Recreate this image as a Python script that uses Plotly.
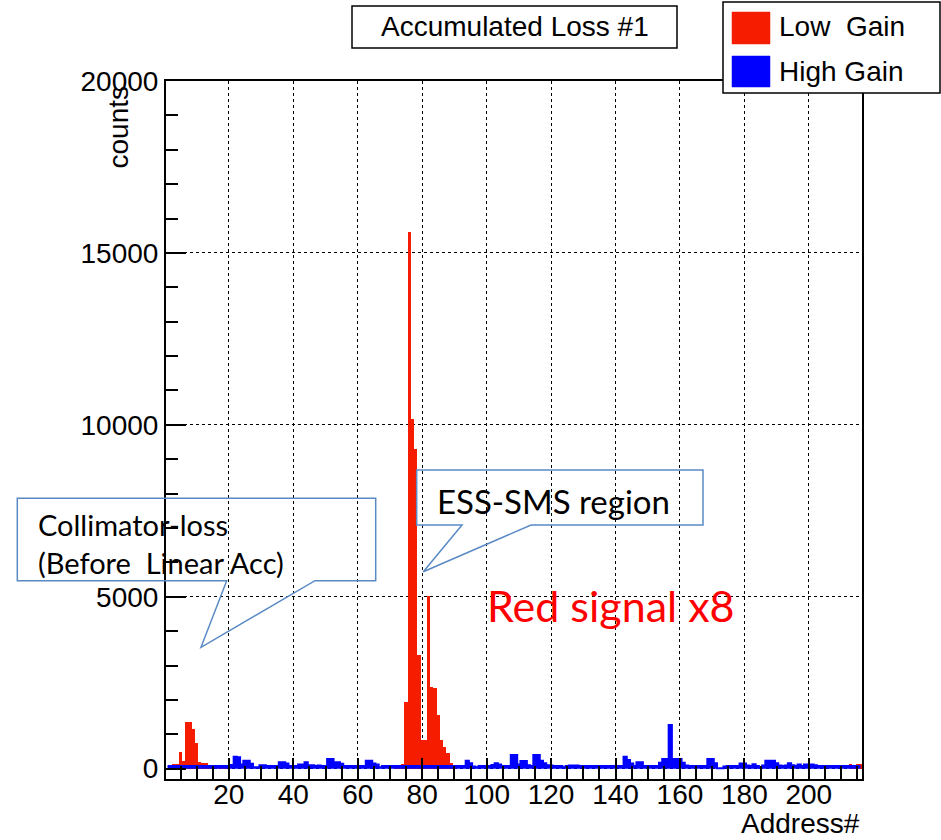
import plotly.graph_objects as go

# Channel addresses (one bin per address)
address = list(range(1, 217))

# Low-gain channel, scaled x8 (counts)
low_gain_x8 = [
    0, 0, 128, 128, 494, 224, 1366, 1366, 1145, 738, 203, 157, 157, 80, 80, 0, 120, 120, 120, 0,
    0, 0, 0, 0, 0, 0, 0, 0, 0, 0, 0, 0, 0, 0, 0, 0, 0, 0, 0, 0,
    0, 0, 0, 0, 0, 0, 0, 0, 0, 0, 0, 0, 0, 0, 0, 0, 0, 0, 0, 0,
    0, 0, 0, 0, 0, 0, 0, 0, 0, 0, 0, 40, 80, 150, 1950, 15600, 10170, 9290, 3300, 830,
    830, 5020, 2370, 2340, 1560, 830, 640, 456, 166, 60, 0, 0, 0, 0, 0, 0, 0, 0, 0, 0,
    0, 0, 0, 0, 0, 0, 0, 0, 0, 0, 0, 0, 0, 0, 0, 0, 0, 0, 0, 0,
    0, 0, 0, 0, 0, 0, 0, 0, 0, 0, 0, 0, 0, 0, 0, 0, 0, 0, 0, 0,
    0, 0, 0, 0, 0, 0, 0, 0, 0, 0, 0, 0, 0, 0, 0, 0, 0, 0, 0, 0,
    0, 0, 0, 0, 0, 0, 0, 0, 0, 0, 0, 0, 0, 0, 0, 0, 0, 0, 0, 0,
    0, 0, 0, 0, 0, 0, 0, 0, 0, 0, 0, 0, 0, 0, 0, 0, 0, 0, 0, 0,
    0, 0, 0, 0, 0, 0, 0, 0, 0, 0, 0, 0, 130, 60, 130, 130,
]

# High-gain channel (counts)
high_gain = [
    75, 75, 75, 75, 75, 75, 75, 75, 75, 75, 75, 75, 75, 75, 75, 75, 75, 75, 75, 75,
    110, 350, 330, 120, 233, 233, 140, 40, 40, 100, 100, 75, 75, 75, 75, 190, 190, 150, 75, 75,
    75, 120, 120, 190, 100, 100, 75, 90, 75, 75, 282, 282, 190, 190, 140, 80, 80, 75, 75, 75,
    75, 75, 233, 233, 150, 120, 40, 75, 75, 75, 75, 75, 75, 75, 75, 75, 75, 75, 75, 75,
    75, 75, 75, 75, 75, 75, 75, 75, 75, 75, 75, 75, 75, 233, 160, 60, 40, 75, 75, 75,
    75, 110, 157, 120, 75, 75, 75, 398, 398, 120, 224, 224, 100, 75, 398, 398, 233, 157, 100, 90,
    75, 75, 75, 40, 75, 90, 90, 90, 75, 75, 75, 75, 75, 75, 75, 75, 75, 75, 75, 75,
    75, 75, 350, 250, 150, 75, 190, 190, 75, 75, 75, 75, 75, 175, 282, 282, 1270, 282, 282, 282,
    175, 90, 75, 75, 75, 75, 75, 75, 282, 282, 157, 15, 15, 60, 75, 75, 75, 75, 150, 150,
    90, 75, 130, 75, 30, 90, 233, 233, 233, 160, 90, 75, 90, 160, 100, 75, 120, 75, 120, 120,
    120, 100, 75, 75, 75, 75, 75, 75, 75, 75, 75, 75, 75, 75, 75, 75,
]

RED = "#f51c00"
BLUE = "#0000ff"
CALLOUT = "#5a8ac6"
ROOT_FONT = "Liberation Sans, Arial, sans-serif"
NOTE_FONT = "Lato, sans-serif"

W, H = 941, 840
L, R, T, B = 166, 862, 81, 779


def px(x):
    return (x - L) / (R - L)


def py(y):
    return (B - y) / (B - T)


def path(points):
    return "M " + " L ".join(f"{px(a):.5f},{py(b):.5f}" for a, b in points) + " Z"


fig = go.Figure()

fig.add_trace(go.Bar(
    x=address, y=low_gain_x8, width=1.0,
    marker=dict(color=RED, line=dict(width=0)),
    name="Low  Gain", showlegend=False,
))

fig.add_trace(go.Scatter(
    x=address, y=high_gain, mode="lines",
    line=dict(color=BLUE, width=2, shape="hvh"),
    fill="tozeroy", fillcolor=BLUE,
    name="High Gain", showlegend=False,
))

shapes = []
annotations = []

# Title box
shapes.append(dict(type="rect", xref="paper", yref="paper",
                   x0=px(352), x1=px(677), y0=py(48), y1=py(6),
                   line=dict(color="black", width=1.5), fillcolor="white"))
annotations.append(dict(xref="paper", yref="paper", x=px(514.5), y=py(27),
                        text="Accumulated Loss #1", showarrow=False,
                        xanchor="center", yanchor="middle",
                        font=dict(family=ROOT_FONT, size=28, color="black")))

# Legend box
shapes.append(dict(type="rect", xref="paper", yref="paper",
                   x0=px(723), x1=px(940), y0=py(93), y1=py(2),
                   line=dict(color="black", width=1.5), fillcolor="white"))
shapes.append(dict(type="rect", xref="paper", yref="paper",
                   x0=px(732), x1=px(770), y0=py(44), y1=py(12),
                   line=dict(color=RED, width=0.5), fillcolor=RED))
shapes.append(dict(type="rect", xref="paper", yref="paper",
                   x0=px(732), x1=px(770), y0=py(87), y1=py(56),
                   line=dict(color=BLUE, width=0.5), fillcolor=BLUE))
annotations.append(dict(xref="paper", yref="paper", x=px(777), y=py(27),
                        text="Low  Gain", showarrow=False,
                        xanchor="left", yanchor="middle",
                        font=dict(family=ROOT_FONT, size=28, color="black")))
annotations.append(dict(xref="paper", yref="paper", x=px(777), y=py(71),
                        text="High Gain", showarrow=False,
                        xanchor="left", yanchor="middle",
                        font=dict(family=ROOT_FONT, size=28, color="black")))

# Axis titles
annotations.append(dict(xref="paper", yref="paper", x=px(862), y=py(823),
                        text="Address#", showarrow=False,
                        xanchor="right", yanchor="middle",
                        font=dict(family=ROOT_FONT, size=28, color="black")))
annotations.append(dict(xref="paper", yref="paper", x=px(118), y=py(84),
                        text="counts", showarrow=False, textangle=-90,
                        xanchor="center", yanchor="top",
                        font=dict(family=ROOT_FONT, size=28, color="black")))

# Callout: collimator loss
shapes.append(dict(type="path", xref="paper", yref="paper",
                   path=path([(226.7, 580.7), (201, 647.3), (315, 580.7), (375.7, 580.7),
                              (375.7, 498.3), (17.3, 498.3), (17.3, 580.7)]),
                   line=dict(color=CALLOUT, width=1.5), fillcolor="rgba(0,0,0,0)"))
annotations.append(dict(xref="paper", yref="paper", x=px(36), y=py(543),
                        text="Collimator-loss<br>(Before  Linear Acc)", showarrow=False,
                        xanchor="left", yanchor="middle", align="left",
                        font=dict(family=NOTE_FONT, size=29, color="black")))

# Callout: ESS-SMS region
shapes.append(dict(type="path", xref="paper", yref="paper",
                   path=path([(462, 525), (423.3, 571.7), (531, 525), (703, 525),
                              (703, 470), (416.7, 470), (416.7, 525)]),
                   line=dict(color=CALLOUT, width=1.5), fillcolor="rgba(0,0,0,0)"))
annotations.append(dict(xref="paper", yref="paper", x=px(435), y=py(501),
                        text="ESS-SMS region", showarrow=False,
                        xanchor="left", yanchor="middle",
                        font=dict(family=NOTE_FONT, size=33, color="black")))

annotations.append(dict(xref="paper", yref="paper", x=px(485), y=py(605),
                        text="Red signal x8", showarrow=False,
                        xanchor="left", yanchor="middle",
                        font=dict(family=NOTE_FONT, size=43, color="#ff0000")))

fig.update_layout(
    width=W, height=H,
    margin=dict(l=L, r=W - R, t=T, b=H - B, pad=0),
    paper_bgcolor="white", plot_bgcolor="white",
    barmode="overlay", bargap=0,
    showlegend=False,
    shapes=shapes, annotations=annotations,
)

fig.update_xaxes(
    range=[0.5, 216.5], tick0=0, dtick=20,
    ticks="inside", ticklen=21, tickwidth=1.5, tickcolor="black",
    ticklabelstandoff=-11,
    minor=dict(dtick=5, tick0=0, ticks="inside", ticklen=13, tickwidth=1.5, tickcolor="black"),
    showgrid=True, gridcolor="black", griddash="dot", gridwidth=1,
    showline=True, linecolor="black", linewidth=2, mirror=True,
    zeroline=False,
    tickfont=dict(family=ROOT_FONT, size=28, color="black"),
)

fig.update_yaxes(
    range=[-300, 20000], tick0=0, dtick=5000, tickformat="d",
    ticks="inside", ticklen=20, tickwidth=1.5, tickcolor="black",
    minor=dict(dtick=1000, tick0=0, ticks="inside", ticklen=12, tickwidth=1.5, tickcolor="black"),
    showgrid=True, gridcolor="black", griddash="dot", gridwidth=1,
    showline=True, linecolor="black", linewidth=2, mirror=True,
    zeroline=False,
    tickfont=dict(family=ROOT_FONT, size=28, color="black"),
)

fig.write_html("out.html")
